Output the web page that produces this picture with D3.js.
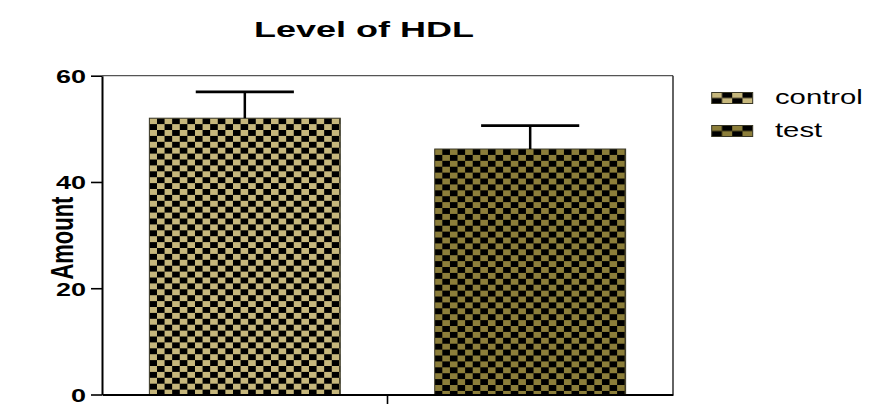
<!DOCTYPE html>
<html>
<head>
<meta charset="utf-8">
<script src="https://cdn.jsdelivr.net/npm/d3@7/dist/d3.min.js"></script>
<style>
  body { margin: 0; background: #fff; }
  svg { display: block; font-family: Arial, "Liberation Sans", sans-serif; }
</style>
</head>
<body>
<svg id="chart" width="874" height="404"></svg>
<script>
// ---- data ----
const title = "Level of HDL";
const yLabel = "Amount";
const groups = [""];
const series = ["control", "test"];
const means = [52.0, 46.2];
const errors = [4.95, 4.4];
const yTicks = [0, 20, 40, 60];
const yDomain = [0, 60];

// ---- styles ----
const fills = ["#c6b77c", "#8c7e3a"];

const svg = d3.select("#chart");
const pLeft = 102, pRight = 673, pTop = 75.7, pBottom = 394.5;

const y = d3.scaleLinear().domain(yDomain).range([pBottom, pTop]);
const x0 = d3.scaleBand().domain(groups).range([pLeft, pRight]).padding(0);
const x1 = d3.scaleBand().domain(series).range([0, x0.bandwidth()])
  .paddingInner(0.331).paddingOuter(0.166);

// patterns
const defs = svg.append("defs");
function checker(id, color, w, h, ox, oy) {
  const p = defs.append("pattern").attr("id", id)
    .attr("patternUnits", "userSpaceOnUse")
    .attr("x", ox).attr("y", oy)
    .attr("width", 2 * w).attr("height", 2 * h);
  p.append("rect").attr("width", 2 * w).attr("height", 2 * h).attr("fill", color);
  p.append("rect").attr("x", w).attr("y", 0).attr("width", w).attr("height", h).attr("fill", "#000");
  p.append("rect").attr("x", 0).attr("y", h).attr("width", w).attr("height", h).attr("fill", "#000");
}
series.forEach((s, i) => {
  const bx = x0(groups[0]) + x1(s);
  checker("pat" + i, fills[i], 7.6, 5.9, bx, y(means[i]));
});

// bars
const g = svg.append("g");
series.forEach((s, i) => {
  const bx = x0(groups[0]) + x1(s);
  g.append("rect")
    .attr("x", bx).attr("y", y(means[i]))
    .attr("width", x1.bandwidth()).attr("height", y(0) - y(means[i]))
    .attr("fill", `url(#pat${i})`)
    .attr("stroke", "#3a3826").attr("stroke-width", 1);
  const cx = bx + x1.bandwidth() / 2;
  const capHalf = x1.bandwidth() * 0.257;
  g.append("line").attr("x1", cx).attr("x2", cx)
    .attr("y1", y(means[i])).attr("y2", y(means[i] + errors[i]))
    .attr("stroke", "#000").attr("stroke-width", 2.5);
  g.append("line").attr("x1", cx - capHalf).attr("x2", cx + capHalf)
    .attr("y1", y(means[i] + errors[i])).attr("y2", y(means[i] + errors[i]))
    .attr("stroke", "#000").attr("stroke-width", 2.6);
});

// frame (top and right)
svg.append("line").attr("x1", pLeft).attr("x2", pRight).attr("y1", y(60)).attr("y2", y(60))
  .attr("stroke", "#555").attr("stroke-width", 1.2);
svg.append("line").attr("x1", pRight).attr("x2", pRight).attr("y1", y(60)).attr("y2", y(0))
  .attr("stroke", "#222").attr("stroke-width", 1.4);

// y axis
const yAxis = svg.append("g").attr("transform", `translate(${pLeft},0)`)
  .call(d3.axisLeft(y).tickValues(yTicks).tickSize(11).tickSizeOuter(0));
yAxis.select(".domain").attr("stroke", "#000").attr("stroke-width", 2);
yAxis.selectAll(".tick line").attr("stroke", "#000").attr("stroke-width", 1.6);
yAxis.selectAll(".tick text")
  .attr("x", 0).attr("dy", null)
  .attr("transform", "translate(-16,6.8) scale(1.42,1)")
  .attr("text-anchor", "end")
  .attr("font-size", 19).attr("font-weight", "bold")
  .attr("font-family", "Arial, 'Liberation Sans', sans-serif")
  .attr("fill", "#000");

// x axis
const xAxis = svg.append("g").attr("transform", `translate(0,${pBottom})`)
  .call(d3.axisBottom(x0).tickSize(11).tickSizeOuter(0));
xAxis.select(".domain").attr("stroke", "#000").attr("stroke-width", 2);
xAxis.selectAll(".tick line").attr("stroke", "#000").attr("stroke-width", 1.6);
xAxis.selectAll(".tick text").remove();

// title
svg.append("text")
  .attr("transform", "translate(364,36.5) scale(1.6,1)")
  .attr("text-anchor", "middle")
  .attr("font-size", 22.5).attr("font-weight", "bold").attr("fill", "#000")
  .text(title);

// y label
svg.append("text")
  .attr("transform", `translate(73,${(pTop + pBottom) / 2 + 3}) scale(1.4,1) rotate(-90)`)
  .attr("text-anchor", "middle")
  .attr("font-size", 22).attr("font-weight", "bold").attr("fill", "#000")
  .text(yLabel);

// legend
series.forEach((s, i) => {
  const ly = 92.5 + i * 33;
  checker("lpat" + i, fills[i], 10.25, 5.5, 711.7, ly);
  svg.append("rect").attr("x", 711.7).attr("y", ly).attr("width", 41).attr("height", 11)
    .attr("fill", `url(#lpat${i})`).attr("stroke", "#3a3826").attr("stroke-width", 1);
  svg.append("text")
    .attr("transform", `translate(775,${ly + 11}) scale(1.5,1)`)
    .attr("font-size", 19.5).attr("fill", "#000")
    .text(s);
});
</script>
</body>
</html>
